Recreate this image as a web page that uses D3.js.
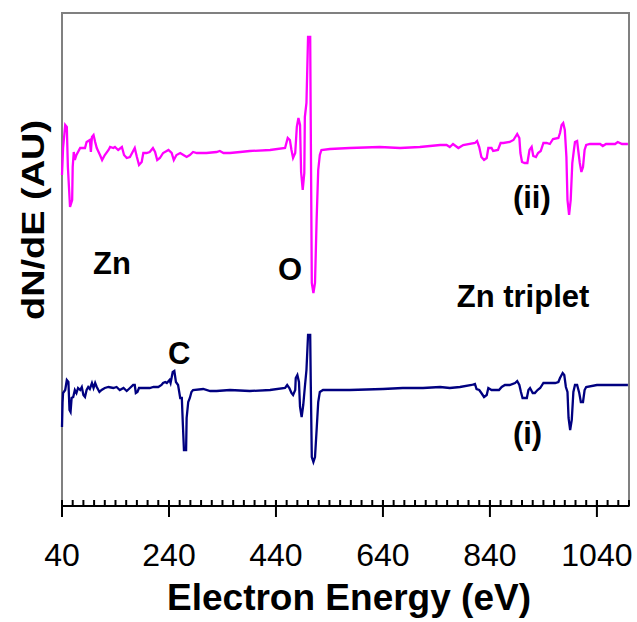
<!DOCTYPE html>
<html><head><meta charset="utf-8">
<script src="https://cdn.jsdelivr.net/npm/d3@7"></script>
<style>html,body{margin:0;padding:0;background:#fff;}svg{display:block;}</style>
</head><body><svg id="c" width="637" height="622"></svg>
<script>
// Energy (eV) and dN/dE (AU) for spectrum (ii) - magenta
const energyII = [40,41,42,46,49,51,55,59,60,62,64,67,74,83,86,92,94,96,99,102,105,111,115,120,127,130,136,139,145,152,156,161,167,172,176,180,184,189,192,198,204,210,214,218,223,229,239,245,249,254,261,267,273,279,285,292,310,329,335,342,354,373,391,429,457,462,466,469,472,476,479,482,485,487,490,493,494,497,500,504,505,507,510,513,516,519,522,525,541,578,634,672,709,747,759,765,771,781,790,812,816,820,824,829,834,837,843,846,855,860,865,877,884,891,895,897,900,905,910,914,918,921,926,930,935,940,946,952,958,968,971,974,977,980,983,985,988,991,994,997,999,1003,1005,1008,1011,1014,1017,1020,1027,1046,1051,1057,1074,1079,1087,1098];
const signalII = [331,344,358,381,379,339,299,306,339,354,346,351,358,358,364,366,354,369,371,364,358,351,346,351,356,359,358,359,356,359,351,348,349,354,358,349,341,344,353,353,354,358,354,346,348,353,356,353,346,351,353,351,349,351,354,353,353,354,355,353,353,354,355,356,358,368,366,356,348,353,379,388,381,334,316,333,389,403,469,469,386,223,213,223,286,336,351,356,357,358,359,358,359,361,361,359,362,358,361,363,365,359,349,346,348,358,358,355,356,363,363,364,366,372,368,353,344,343,343,356,359,350,349,353,355,363,363,362,367,368,373,381,383,376,349,306,291,306,343,356,364,365,356,343,334,339,356,361,362,362,360,362,362,364,362,362];
// Energy (eV) and dN/dE (AU) for spectrum (i) - navy
const energyI = [40,41,42,46,49,52,54,56,58,61,64,67,70,74,77,80,83,86,89,92,96,99,102,105,110,114,120,127,136,142,148,155,161,167,173,176,178,181,184,192,204,211,220,226,229,233,236,241,243,247,250,253,257,261,264,266,268,272,273,276,279,282,285,304,317,329,354,391,429,457,461,465,469,472,476,477,480,483,485,488,491,494,497,500,504,505,507,510,513,516,519,522,528,578,640,677,715,747,765,784,806,812,815,820,824,829,834,837,843,857,862,868,877,887,891,895,898,901,909,912,915,920,924,929,934,940,962,968,971,976,979,982,985,987,990,993,996,999,1003,1007,1010,1014,1017,1020,1040,1098];
const signalI = [79,103,113,116,126,124,96,94,108,109,116,113,118,116,119,111,109,116,119,117,123,118,123,119,114,116,118,119,118,119,116,118,115,118,121,121,113,114,118,118,118,119,119,121,123,124,123,126,123,134,135,124,121,108,108,81,56,56,88,104,108,114,116,117,115,115,116,115,116,118,121,118,113,111,116,128,131,124,99,89,101,119,136,171,171,126,49,44,49,76,104,114,116,116,117,118,118,119,118,119,121,122,117,116,113,109,111,118,116,116,119,121,121,123,125,121,114,108,108,116,118,113,113,116,118,123,123,124,128,133,131,119,114,88,76,86,114,121,121,113,104,104,116,119,121,121];

const majorTicks = [40,240,440,640,840,1040];
const minorTicks = d3.range(40, 1101, 20);
const xTitle = "Electron Energy (eV)";
const yTitle = "dN/dE (AU)";
const labels = [
  {t:"Zn", e:98, v:232},
  {t:"O", e:444, v:226},
  {t:"Zn triplet", e:778, v:199},
  {t:"C", e:238, v:142},
  {t:"(ii)", e:883, v:298},
  {t:"(i)", e:883, v:62}
];

const svg = d3.select("#c");
const L = 62, R = 629, T = 13, B = 506;
const x = d3.scaleLinear().domain([40,1100]).range([L,R]);
const y = d3.scaleLinear().domain([0,493]).range([B,T]);
const font = "'Liberation Sans', Arial, Helvetica, sans-serif";

// frame
svg.append("rect").attr("x",L).attr("y",T).attr("width",R-L).attr("height",B-T)
  .attr("fill","none").attr("stroke","#808080").attr("stroke-width",2);

// series
const line = d3.line().x(d=>x(d[0])).y(d=>y(d[1]));
svg.append("path").datum(d3.zip(energyII, signalII)).attr("d",line)
  .attr("fill","none").attr("stroke","#FF00FF").attr("stroke-width",2.3).attr("stroke-linejoin","miter");
svg.append("path").datum(d3.zip(energyI, signalI)).attr("d",line)
  .attr("fill","none").attr("stroke","#000080").attr("stroke-width",2.3).attr("stroke-linejoin","miter");

// x axis
const ax = svg.append("g");
ax.append("line").attr("x1",L).attr("x2",R).attr("y1",B).attr("y2",B).attr("stroke","#000").attr("stroke-width",2);
ax.selectAll("line.mn").data(minorTicks).enter().append("line").attr("class","mn")
  .attr("x1",d=>x(d)).attr("x2",d=>x(d)).attr("y1",B-6).attr("y2",B).attr("stroke","#000").attr("stroke-width",2);
ax.selectAll("line.mj").data(majorTicks).enter().append("line").attr("class","mj")
  .attr("x1",d=>x(d)).attr("x2",d=>x(d)).attr("y1",B-6).attr("y2",B+11).attr("stroke","#000").attr("stroke-width",2);
ax.selectAll("text").data(majorTicks).enter().append("text")
  .attr("x",d=>x(d)).attr("y",566).attr("text-anchor","middle")
  .attr("font-family",font).attr("font-size",32).attr("fill","#000").text(d=>d);

svg.append("text").attr("x",349).attr("y",610).attr("text-anchor","middle")
  .attr("font-family",font).attr("font-size",37).attr("font-weight","bold").text(xTitle);
svg.append("text").attr("transform","translate(44,220) rotate(-90)").attr("text-anchor","middle")
  .attr("font-family",font).attr("font-size",32).attr("font-weight","bold")
  .attr("textLength",200).attr("lengthAdjust","spacingAndGlyphs").text(yTitle);

svg.selectAll("text.lab").data(labels).enter().append("text").attr("class","lab")
  .attr("x",d=>x(d.e)).attr("y",d=>y(d.v)).attr("font-family",font).attr("font-size",31)
  .attr("font-weight","bold").attr("fill","#000").text(d=>d.t);
</script></body></html>
